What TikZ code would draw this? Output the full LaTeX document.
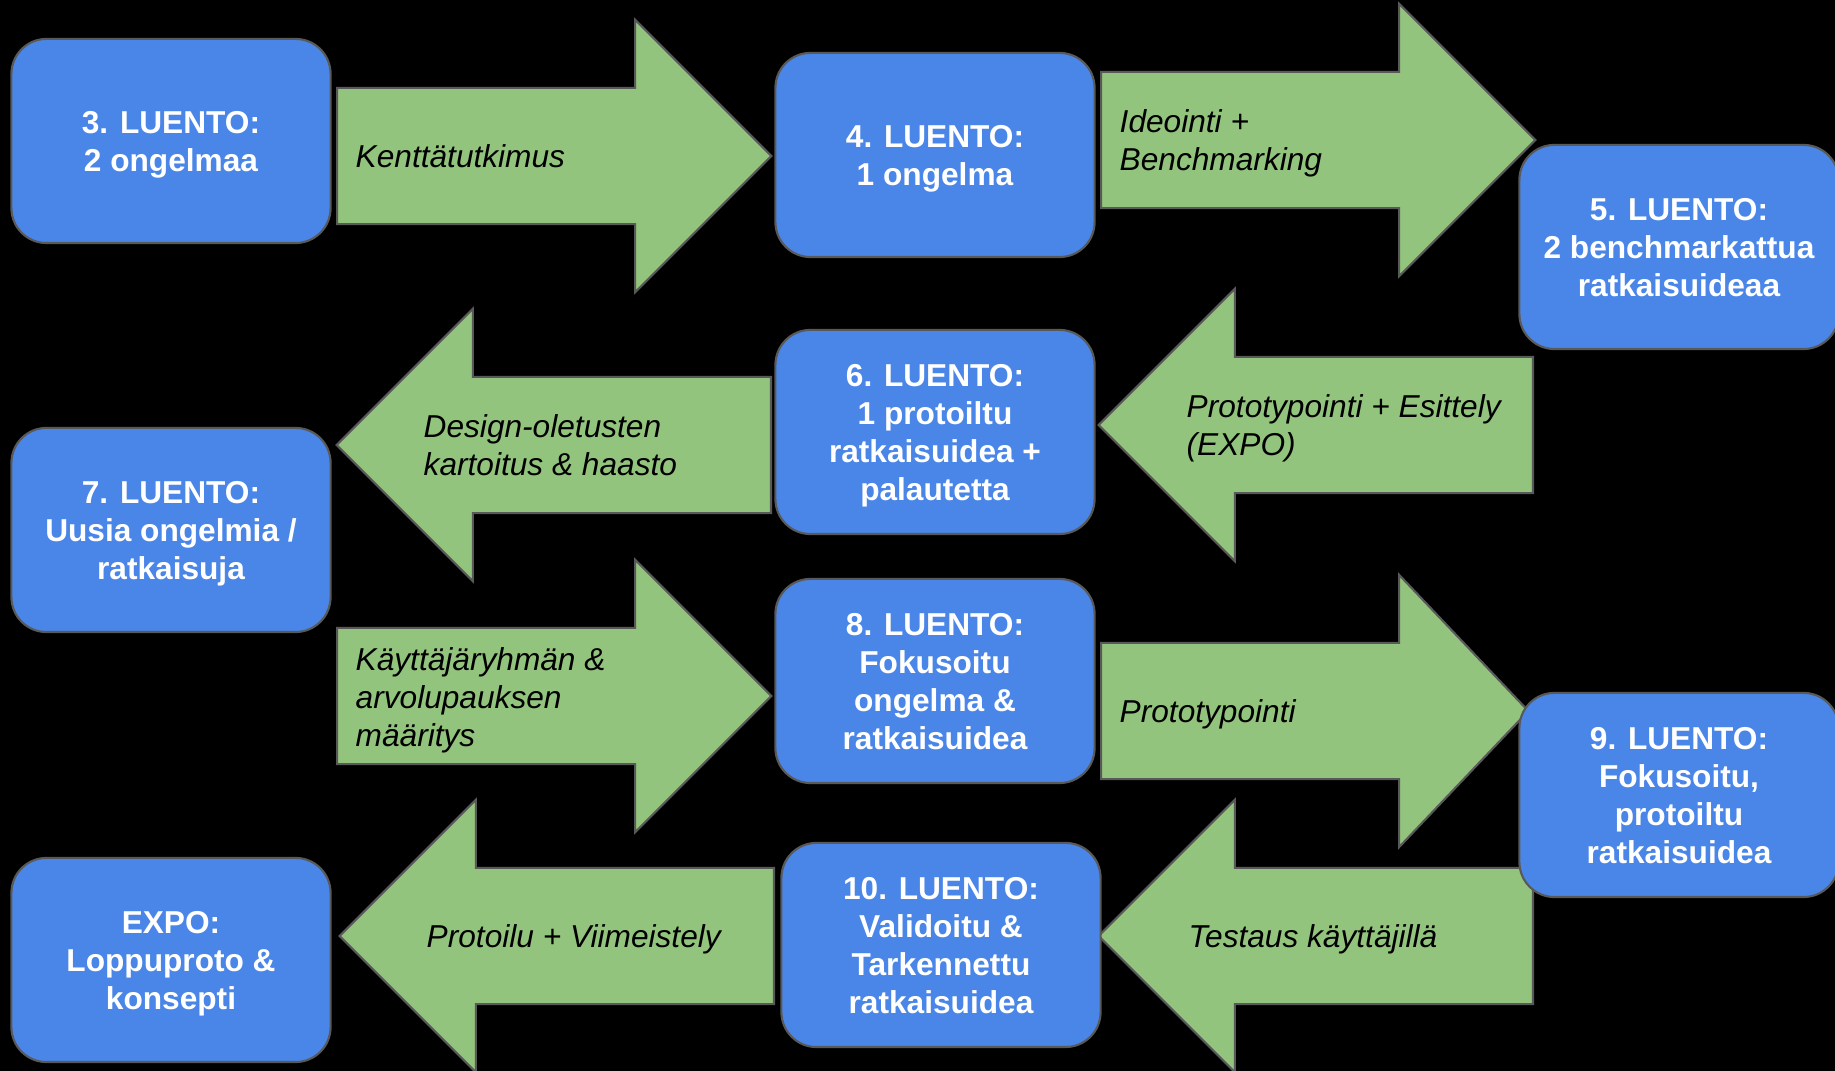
\documentclass[tikz,border=0pt]{standalone}
\usepackage{fontspec}
\setmainfont{Liberation Sans}
\usetikzlibrary{shapes.arrows}
\definecolor{luentosin}{HTML}{4A86E8}
\definecolor{nuolivihr}{HTML}{93C47D}
\definecolor{reuna}{HTML}{595959}
\tikzset{
  luento/.style={rectangle, rounded corners=0.35cm, draw=reuna, line width=0.6pt, fill=luentosin,
    minimum width=3.19cm, minimum height=2.04cm, text=white, align=center, text depth=-0.6pt,
    font=\bfseries\fontsize{9}{10.8}\selectfont},
  nuoli/.style={single arrow, draw=reuna, line width=0.6pt, fill=nuolivihr, anchor=tail,
    inner xsep=0pt, inner ysep=0.67cm, single arrow head extend=0.68cm,
    single arrow tip angle=90, minimum height=4.34cm, minimum width=0pt},
  vasen/.style={shape border rotate=180},
  selite/.style={anchor=west, align=left, inner sep=0pt, text depth=-0.6pt,
    font=\itshape\fontsize{9}{10.8}\selectfont}
}
\begin{document}
\begin{tikzpicture}[x=0.01cm, y=-0.01cm]
  \useasboundingbox (0,0) rectangle (1835,1071);
  \fill[black] (0,0) rectangle (1835,1071);                 % Tausta
  % Nuolet
  \node[nuoli] (n1) at (336,156) {};                        % 3. -> 4.
  \node[nuoli] (n2) at (1100,140) {};                       % 4. -> 5.
  \node[nuoli, vasen] (n3) at (1534,425) {};                % 5. -> 6.
  \node[nuoli, vasen] (n4) at (772,445) {};                 % 6. -> 7.
  \node[nuoli] (n5) at (336,696) {};                        % 7. -> 8.
  \node[nuoli, minimum height=4.27cm, single arrow tip angle=93] (n6) at (1100,711) {}; % 8. -> 9.
  \node[nuoli, vasen] (n7) at (1534,936) {};                % 9. -> 10.
  \node[nuoli, vasen] (n8) at (775,936) {};                 % 10. -> EXPO
  % Nuolten tekstit
  \node[selite] (s1) at (355,156) {Kenttätutkimus};
  \node[selite] (s2) at (1119,140) {Ideointi +\\Benchmarking};
  \node[selite] (s3) at (1186,425) {Prototypointi + Esittely\\(EXPO)};
  \node[selite] (s4) at (423,445) {Design-oletusten\\kartoitus \& haasto};
  \node[selite] (s5) at (355,697) {Käyttäjäryhmän \&\\arvolupauksen\\määritys};
  \node[selite] (s6) at (1119,711) {Prototypointi};
  \node[selite] (s7) at (1188,936) {Testaus käyttäjillä};
  \node[selite] (s8) at (426,936) {Protoilu + Viimeistely};
  % Luennot
  \node[luento] (l3) at (171,141) {3. LUENTO:\\2 ongelmaa};
  \node[luento] (l4) at (935,155) {4. LUENTO:\\1 ongelma};
  \node[luento] (l5) at (1679,247) {5. LUENTO:\\2 benchmarkattua\\ratkaisuideaa};
  \node[luento] (l6) at (935,432) {6. LUENTO:\\1 protoiltu\\ratkaisuidea +\\palautetta};
  \node[luento] (l7) at (171,530) {7. LUENTO:\\Uusia ongelmia /\\ratkaisuja};
  \node[luento] (l8) at (935,681) {8. LUENTO:\\Fokusoitu\\ongelma \&\\ratkaisuidea};
  \node[luento] (l9) at (1679,795) {9. LUENTO:\\Fokusoitu,\\protoiltu\\ratkaisuidea};
  \node[luento] (l10) at (941,945) {10. LUENTO:\\Validoitu \&\\Tarkennettu\\ratkaisuidea};
  \node[luento] (expo) at (171,960) {EXPO:\\Loppuproto \&\\konsepti};
\end{tikzpicture}
\end{document}
